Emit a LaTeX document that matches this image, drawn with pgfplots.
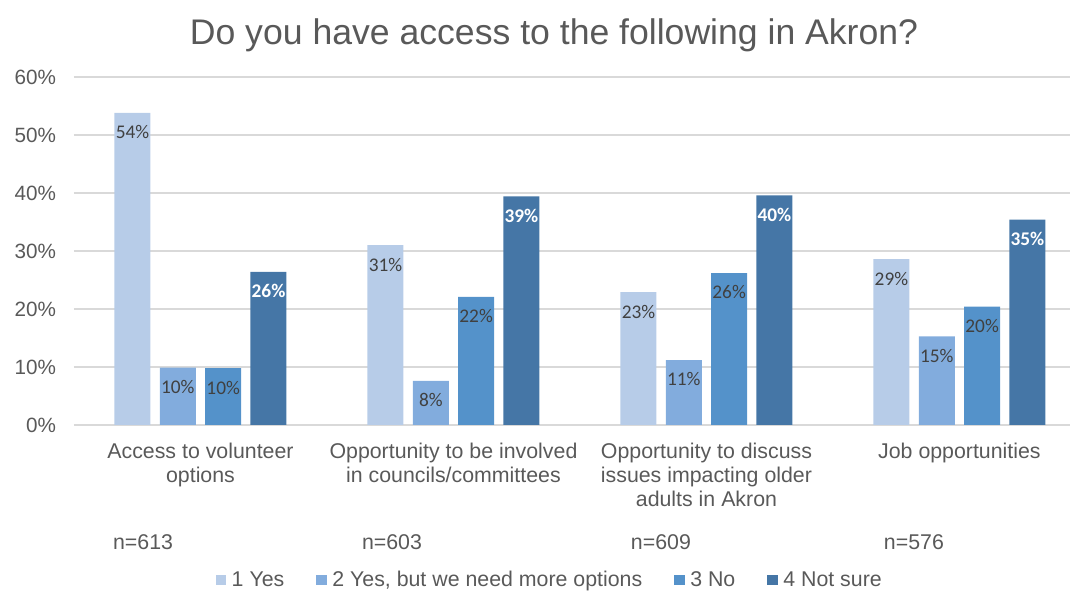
\documentclass[border=0pt]{standalone}
\usepackage{pgfplots}
\pgfplotsset{compat=1.18}
\usepackage{fontspec}
\setmainfont{Liberation Sans}
\newfontfamily\carlito{Carlito}
\definecolor{sA}{HTML}{B7CCE8}
\definecolor{sB}{HTML}{82ACDD}
\definecolor{sC}{HTML}{5492CA}
\definecolor{sD}{HTML}{4576A6}
\definecolor{txt}{HTML}{595959}
\definecolor{lbl}{HTML}{404040}
\definecolor{gridc}{HTML}{D9D9D9}
\begin{document}
\begin{tikzpicture}
\begin{axis}[
  at={(0,0)}, anchor=south west,
  scale only axis, width=747pt, height=261pt,
  xmin=-0.5, xmax=3.437, ymin=0, ymax=60,
  clip=false,
  ybar=7pt, bar width=27pt,
  axis line style={draw=none},
  major tick length=0pt,
  ymajorgrids, grid style={gridc, line width=1pt},
  ytick={0,10,20,30,40,50,60},
  yticklabels={0\%,10\%,20\%,30\%,40\%,50\%,60\%},
  yticklabel style={font=\fontsize{15.5}{18}\selectfont, text=txt, anchor=east, xshift=-10pt},
  xtick={0,1,2,3},
  xticklabels={Access to volunteer\\options, Opportunity to be involved\\in councils/committees, Opportunity to discuss\\issues impacting older\\adults in Akron, Job opportunities},
  xticklabel style={font=\fontsize{16}{18}\selectfont, text=txt, align=center, anchor=north, yshift=-10pt},
  nodes near coords={\pgfmathprintnumber[fixed,precision=0,assume math mode=true]{\pgfplotspointmeta}\%},
  every node near coord/.append style={font=\carlito\fontsize{14.5}{14.5}\selectfont, text=lbl, anchor=north, yshift=-6pt},
  legend columns=4,
  legend style={at={(axis description cs:0.478,-0.4454)}, anchor=center, draw=none, fill=none,
    font=\fontsize{16}{18}\selectfont, text=txt,
    /tikz/every even column/.append style={column sep=22pt}},
  legend image code/.code={\fill[#1,draw=none] (0pt,-4pt) rectangle (8pt,4pt);},
]
\addplot[fill=sA, draw=none] coordinates {(0,53.8) (1,31.0) (2,22.9) (3,28.6)};
\addplot[fill=sB, draw=none] coordinates {(0,9.9) (1,7.6) (2,11.2) (3,15.3)};
\addplot[fill=sC, draw=none] coordinates {(0,9.8) (1,22.1) (2,26.2) (3,20.4)};
\addplot[fill=sD, draw=none, every node near coord/.append style={text=white, font=\carlito\bfseries\fontsize{14.5}{14.5}\selectfont}] coordinates {(0,26.4) (1,39.4) (2,39.6) (3,35.4)};
\legend{\hspace{2pt}1 Yes, {\hspace{2pt}2 Yes, but we need more options}, \hspace{2pt}3 No, \hspace{2pt}4 Not sure}
\node[font=\fontsize{16}{18}\selectfont, text=txt] at (axis cs:-0.227,-20.2) {n=613};
\node[font=\fontsize{16}{18}\selectfont, text=txt] at (axis cs:0.757,-20.2) {n=603};
\node[font=\fontsize{16}{18}\selectfont, text=txt] at (axis cs:1.820,-20.2) {n=609};
\node[font=\fontsize{16}{18}\selectfont, text=txt] at (axis cs:2.820,-20.2) {n=576};
\end{axis}
\node[font=\fontsize{26.7}{30}\selectfont, text=txt] at (360pt,292.5pt) {Do you have access to the following in Akron?};
\pgfresetboundingbox
\useasboundingbox (-55.5pt,-124.5pt) rectangle (747pt,318.75pt);
\end{tikzpicture}
\end{document}
